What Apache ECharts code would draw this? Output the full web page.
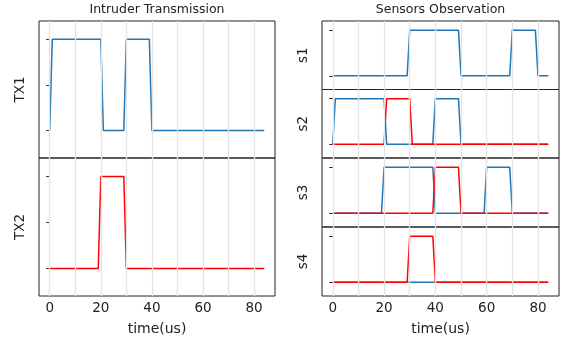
<!DOCTYPE html>
<html>
<head>
<meta charset="utf-8">
<script src="https://cdn.jsdelivr.net/npm/echarts@6/dist/echarts.min.js"></script>
<style>
  html, body { margin: 0; padding: 0; background: #fff; }
  #main { width: 562px; height: 341px; }
</style>
</head>
<body>
<div id="main"></div>
<script>
// breakpoints [time(us), level]
var tx1 = [[0, 0], [1, 1], [20, 1], [21, 0], [29, 0], [30, 1], [39, 1], [40, 0], [84, 0]];
var tx2 = [[0, 0], [19, 0], [20, 1], [29, 1], [30, 0], [84, 0]];
var s1Blue = [[0, 0], [29, 0], [30, 1], [49, 1], [50, 0], [69, 0], [70, 1], [79, 1], [80, 0], [84, 0]];
var s2Blue = [[0, 0], [1, 1], [20, 1], [21, 0], [39, 0], [40, 1], [49, 1], [50, 0], [84, 0]];
var s2Red = [[0, 0], [20, 0], [21, 1], [30, 1], [31, 0], [84, 0]];
var s3Blue = [[0, 0], [19, 0], [20, 1], [39, 1], [40, 0], [59, 0], [60, 1], [69, 1], [70, 0], [84, 0]];
var s3Red = [[0, 0], [39, 0], [40, 1], [49, 1], [50, 0], [84, 0]];
var s4Blue = [[0, 0], [84, 0]];
var s4Red = [[0, 0], [29, 0], [30, 1], [39, 1], [40, 0], [84, 0]];

var xTicks = [0, 20, 40, 60, 80];
var xGrid = [0, 10, 20, 30, 40, 50, 60, 70, 80];
var leftYTicks = [0, 0.5, 1];
var rightYTicks = [0, 1];

var BLUE = '#1f77b4';
var RED = '#ff0000';
var FONT = 'DejaVu Sans';

var grids = [
  { left: 39, top: 21, width: 236, height: 137 },
  { left: 39, top: 158, width: 236, height: 138 },
  { left: 322, top: 21, width: 237, height: 68.5 },
  { left: 322, top: 89.5, width: 237, height: 68.5 },
  { left: 322, top: 158, width: 237, height: 69 },
  { left: 322, top: 227, width: 237, height: 69 }
];
grids.forEach(function (g) {
  g.show = true;
  g.borderColor = '#222';
  g.borderWidth = 1;
  g.backgroundColor = 'transparent';
});

var bottomGrids = [1, 5];
var yNames = ['TX1', 'TX2', 's1', 's2', 's3', 's4'];

var xAxes = [], yAxes = [];
for (var i = 0; i < grids.length; i++) {
  var isBottom = bottomGrids.indexOf(i) >= 0;
  xAxes.push({
    type: 'value', gridIndex: i, min: -4.2, max: 88.2,
    axisLine: { show: false },
    splitLine: { show: false },
    axisTick: { show: isBottom, customValues: xTicks, length: 3.5, lineStyle: { color: '#222' } },
    axisLabel: { show: isBottom, customValues: xTicks, fontSize: 13.5, color: '#222', fontFamily: FONT, margin: 5 },
    name: isBottom ? 'time(us)' : '',
    nameLocation: 'middle', nameGap: 26,
    nameTextStyle: { fontSize: 14, color: '#222', fontFamily: FONT }
  });
  yAxes.push({
    type: 'value', gridIndex: i, min: -0.3, max: 1.2,
    axisLine: { show: false },
    splitLine: { show: false },
    axisTick: { show: true, customValues: i < 2 ? leftYTicks : rightYTicks, length: 3.5, lineStyle: { color: '#222' } },
    axisLabel: { show: false, customValues: i < 2 ? leftYTicks : rightYTicks },
    name: yNames[i], nameLocation: 'middle', nameRotate: 90, nameGap: 12,
    nameTextStyle: { fontSize: 13.5, color: '#222', fontFamily: FONT }
  });
}

function line(idx, data, color) {
  return {
    type: 'line', xAxisIndex: idx, yAxisIndex: idx, data: data,
    showSymbol: false, symbol: 'none', z: 3, silent: true,
    lineStyle: { color: color, width: 1.5 }
  };
}

var series = [];
// vertical grid every 10us, drawn under the signals
for (var k = 0; k < grids.length; k++) {
  series.push({
    type: 'line', xAxisIndex: k, yAxisIndex: k, data: [], z: 1, silent: true,
    markLine: {
      silent: true, symbol: 'none', label: { show: false },
      lineStyle: { color: '#e4e4e4', width: 1.3, type: 'solid' },
      data: xGrid.map(function (v) { return { xAxis: v }; })
    }
  });
}
series.push(line(0, tx1, BLUE));
series.push(line(1, tx2, RED));
series.push(line(2, s1Blue, BLUE));
series.push(line(3, s2Blue, BLUE));
series.push(line(3, s2Red, RED));
series.push(line(4, s3Blue, BLUE));
series.push(line(4, s3Red, RED));
series.push(line(5, s4Blue, BLUE));
series.push(line(5, s4Red, RED));

var myChart = echarts.init(document.getElementById('main'));
myChart.setOption({
  animation: false,
  backgroundColor: '#fff',
  title: [
    { text: 'Intruder Transmission', left: 157, top: 3, textAlign: 'center', padding: 0,
      textStyle: { fontSize: 12.5, fontWeight: 'normal', color: '#222', fontFamily: FONT } },
    { text: 'Sensors Observation', left: 440.5, top: 3, textAlign: 'center', padding: 0,
      textStyle: { fontSize: 12.5, fontWeight: 'normal', color: '#222', fontFamily: FONT } }
  ],
  grid: grids,
  xAxis: xAxes,
  yAxis: yAxes,
  series: series
});
</script>
</body>
</html>
